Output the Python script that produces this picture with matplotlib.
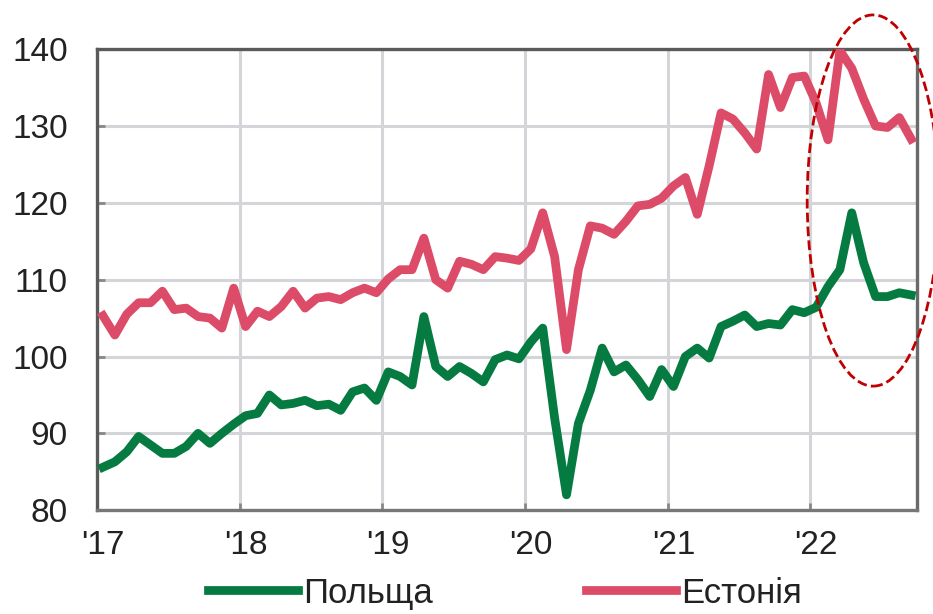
#!/usr/bin/env python3

"""
Monthly index, Poland vs Estonia, Jan 2017 - Sep 2022.
"""

import numpy as np
import matplotlib.pyplot as plt
from matplotlib.patches import Ellipse


OUT = "out.png"

# monthly values, Jan 2017 .. Sep 2022
POLAND = [
    85.6, 86.3, 87.6, 89.6, 88.5, 87.4, 87.4, 88.3, 90.0, 88.7, 90.0, 91.2,
    92.3, 92.6, 95.0, 93.7, 93.9, 94.3, 93.6, 93.8, 93.0, 95.4, 95.9, 94.3,
    98.0, 97.4, 96.3, 105.2, 98.7, 97.4, 98.7, 97.8, 96.7, 99.6, 100.2, 99.7,
    101.9, 103.7, 92.0, 82.0, 91.3, 95.6, 101.1, 98.0, 98.9, 97.0, 94.8, 98.3,
    96.1, 100.0, 101.1, 99.8, 103.9, 104.6, 105.4, 103.9, 104.3, 104.1, 106.1, 105.7,
    106.4, 109.1, 111.3, 118.7, 112.2, 107.8, 107.8, 108.3, 108.0,
]
ESTONIA = [
    105.3, 102.8, 105.5, 107.0, 107.0, 108.5, 106.1, 106.3, 105.2, 105.0, 103.7, 108.9,
    103.9, 105.9, 105.2, 106.5, 108.5, 106.3, 107.6, 107.8, 107.4, 108.3, 108.9, 108.3,
    110.1, 111.3, 111.3, 115.4, 110.0, 108.9, 112.4, 112.0, 111.3, 113.0, 112.8, 112.5,
    114.0, 118.7, 113.0, 100.9, 111.3, 117.0, 116.7, 115.9, 117.6, 119.6, 119.8, 120.6,
    122.2, 123.3, 118.5, 124.8, 131.7, 130.9, 129.1, 127.0, 136.7, 132.4, 136.3, 136.5,
    133.0, 128.2, 139.8, 137.5, 133.5, 130.0, 129.8, 131.1, 128.3,
]

YEAR_LABELS = ["'17", "'18", "'19", "'20", "'21", "'22"]
Y_TICKS = [80, 90, 100, 110, 120, 130, 140]
SERIES_NAMES = ["Польща", "Естонія"]

GREEN = "#067b41"
RED = "#dc4c69"
GRID = "#d3d5d8"
SPINE = "#5a5a5a"

plt.rcParams["font.family"] = ["Liberation Sans", "DejaVu Sans"]

fig = plt.figure(figsize=(9.33, 6.14), dpi=100)
ax = fig.add_axes([0.104, 0.169, 0.879, 0.751])

x = np.arange(len(POLAND))
ax.plot(x, POLAND, color=GREEN, lw=6.3, solid_joinstyle="round",
        label=SERIES_NAMES[0], zorder=3)
ax.plot(x, ESTONIA, color=RED, lw=6.3, solid_joinstyle="round",
        label=SERIES_NAMES[1], zorder=3)

ax.set_xlim(-0.5, len(POLAND) - 0.5)
ax.set_ylim(80, 140)

# year boundaries carry the grid, labels sit on January
year_pos = np.arange(len(YEAR_LABELS)) * 12
ax.set_xticks(year_pos - 0.5)
ax.set_xticklabels([])
ax.set_xticks(year_pos, minor=True)
ax.set_xticklabels(YEAR_LABELS, minor=True)
ax.tick_params(axis="x", which="major", direction="in", length=5,
               width=2, color="#888888")
ax.tick_params(axis="x", which="minor", length=0, pad=14, labelsize=24,
               labelcolor="#222222")

ax.set_yticks(Y_TICKS)
ax.tick_params(axis="y", direction="in", length=6, width=2, color="#888888",
               pad=21, labelsize=24, labelcolor="#222222")

ax.grid(True, which="major", color=GRID, lw=2.2, zorder=0)
ax.set_axisbelow(True)

for side in ["left", "top", "bottom", "right"]:
    ax.spines[side].set_color(SPINE)
    ax.spines[side].set_linewidth(2.4)
ax.spines["bottom"].set_color("#777777")
ax.spines["right"].set_color("#6a6a6a")

# highlight of the 2022 episode
ell = Ellipse((64.8, 120.3), 11.1, 48.3, fill=False, edgecolor="#c00000",
              lw=2.0, linestyle=(0, (3.5, 1.5)), clip_on=False, zorder=4)
ax.add_patch(ell)

fig.legend(loc="center", bbox_to_anchor=(0.541, 0.034), ncol=2, frameon=False,
           fontsize=25, handlelength=2.6, handletextpad=0.15, columnspacing=4.4,
           labelcolor="#222222")

fig.savefig(OUT, dpi=100)
plt.close(fig)
